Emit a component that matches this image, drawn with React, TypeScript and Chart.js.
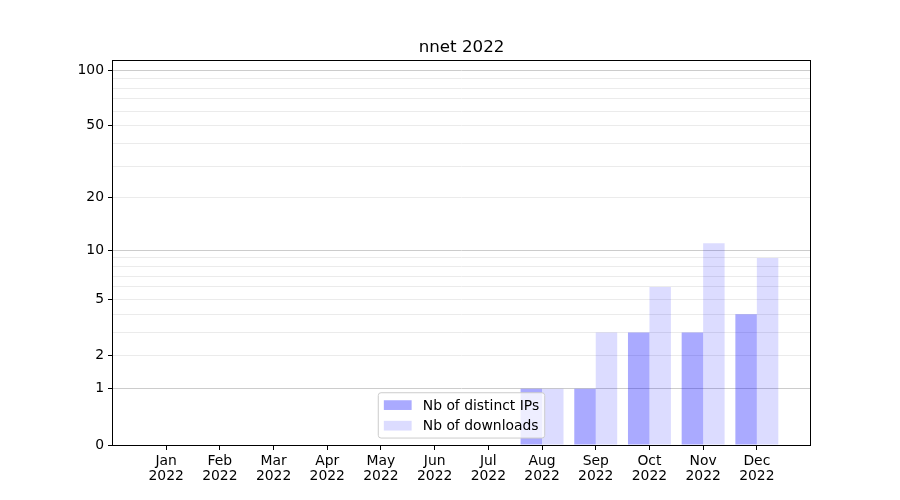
import React, { useEffect, useRef } from "react";
import { Chart, registerables } from "chart.js";

Chart.register(...registerables);

const titleText = "nnet 2022";
const months = ["Jan", "Feb", "Mar", "Apr", "May", "Jun", "Jul", "Aug", "Sep", "Oct", "Nov", "Dec"];
const yearLabel = "2022";
const distinctIPs = [0, 0, 0, 0, 0, 0, 0, 1, 1, 3, 3, 4];
const downloads = [0, 0, 0, 0, 0, 0, 0, 1, 3, 6, 11, 9];
const seriesLabels = ["Nb of distinct IPs", "Nb of downloads"];
const yLabelledTicks = [0, 1, 2, 5, 10, 20, 50, 100];
const yMajorGrid = [1, 10, 100];
const yMinorGrid = [2, 3, 4, 5, 6, 7, 8, 9, 20, 30, 40, 50, 60, 70, 80, 90];
const yTopValue = 113.4;

const FONT = "DejaVu Sans";
const FS = 13.9;

const f = (v: number) => Math.log10(1 + v);
const inv = (t: number) => Math.pow(10, t) - 1;
const near = (a: number, list: number[]) => list.some((v) => Math.abs(v - a) < 1e-6);

const allYTicks = Array.from(new Set([...yLabelledTicks, ...yMajorGrid, ...yMinorGrid])).sort((a, b) => a - b);

const framePlugin = {
  id: "frameAndExtras",
  afterDatasetsDraw(chart: any) {
    const { ctx, chartArea } = chart;
    const { left, right, top, bottom } = chartArea;
    ctx.save();
    ctx.strokeStyle = "#000";
    ctx.lineWidth = 1;
    ctx.strokeRect(Math.round(left) - 0.5, Math.round(top) + 0.5, Math.round(right - left) + 1, Math.round(bottom - top));
    // title
    ctx.fillStyle = "#000";
    ctx.font = `16.7px "${FONT}"`;
    ctx.textAlign = "center";
    ctx.textBaseline = "alphabetic";
    ctx.fillText(titleText, (left + right) / 2, top - 8.3);

    // legend
    ctx.font = `${FS}px "${FONT}"`;
    const pad = 0.4 * FS;
    const handleW = 2 * FS;
    const handleH = 0.7 * FS;
    const textPad = 0.8 * FS;
    const rowH = FS * 0.98;
    const gap = 0.5 * FS;
    const datasets = chart.data.datasets;
    const textW = Math.max(...datasets.map((d: any) => ctx.measureText(d.label).width));
    const boxW = pad * 2 + handleW + textPad + textW;
    const boxH = pad * 2 + rowH * datasets.length + gap * (datasets.length - 1);
    const bx = (left + right) / 2 - boxW / 2;
    const by = bottom - 0.5 * FS - boxH;
    const r = 0.2 * FS;
    ctx.beginPath();
    ctx.moveTo(bx + r, by);
    ctx.lineTo(bx + boxW - r, by);
    ctx.quadraticCurveTo(bx + boxW, by, bx + boxW, by + r);
    ctx.lineTo(bx + boxW, by + boxH - r);
    ctx.quadraticCurveTo(bx + boxW, by + boxH, bx + boxW - r, by + boxH);
    ctx.lineTo(bx + r, by + boxH);
    ctx.quadraticCurveTo(bx, by + boxH, bx, by + boxH - r);
    ctx.lineTo(bx, by + r);
    ctx.quadraticCurveTo(bx, by, bx + r, by);
    ctx.closePath();
    ctx.fillStyle = "rgba(255,255,255,0.8)";
    ctx.fill();
    ctx.strokeStyle = "#cccccc";
    ctx.lineWidth = 1;
    ctx.stroke();
    ctx.textAlign = "left";
    ctx.textBaseline = "middle";
    datasets.forEach((d: any, i: number) => {
      const cy = by + pad + rowH / 2 + i * (rowH + gap);
      ctx.fillStyle = d.backgroundColor;
      ctx.fillRect(bx + pad, cy - handleH / 2, handleW, handleH);
      ctx.fillStyle = "#000";
      ctx.fillText(d.label, bx + pad + handleW + textPad, cy + 1);
    });
    ctx.restore();
  },
};

export default function App() {
  const ref = useRef<HTMLCanvasElement | null>(null);
  useEffect(() => {
    if (!ref.current) return;
    const xMin = -0.4 - 0.05 * (months.length - 1 + 0.8);
    const xMax = months.length - 1 + 0.4 + 0.05 * (months.length - 1 + 0.8);
    const chart = new Chart(ref.current, {
      type: "bar",
      data: {
        datasets: [
          {
            label: seriesLabels[0],
            data: distinctIPs.map((v, i) => ({ x: i, y: f(v) })),
            backgroundColor: "rgba(0,0,255,0.333)",
            borderWidth: 0,
          },
          {
            label: seriesLabels[1],
            data: downloads.map((v, i) => ({ x: i, y: f(v) })),
            backgroundColor: "rgba(0,0,255,0.137)",
            borderWidth: 0,
          },
        ],
      },
      options: {
        animation: false,
        responsive: false,
        devicePixelRatio: 1,
        categoryPercentage: 0.8,
        barPercentage: 1,
        layout: { padding: { left: 0, right: 90, top: 60, bottom: 0 } },
        plugins: { legend: { display: false }, title: { display: false }, tooltip: { enabled: false } },
        scales: {
          x: {
            type: "linear",
            min: xMin,
            max: xMax,
            offset: false,
            border: { display: false },
            afterBuildTicks: (scale: any) => {
              scale.ticks = months.map((_, i) => ({ value: i }));
            },
            afterFit: (scale: any) => {
              scale.height = 55;
            },
            grid: { offset: false, drawOnChartArea: false, drawTicks: true, tickLength: 5, tickColor: "#000", tickWidth: 1 },
            ticks: {
              autoSkip: false,
              maxRotation: 0,
              padding: 4,
              color: "#000",
              font: { family: FONT, size: FS, lineHeight: 1.08 },
              callback: (value: any) => [months[Math.round(value)], yearLabel],
            },
          },
          y: {
            type: "linear",
            min: 0,
            max: f(yTopValue),
            border: { display: false },
            afterBuildTicks: (scale: any) => {
              scale.ticks = allYTicks.map((v) => ({ value: f(v) }));
            },
            afterFit: (scale: any) => {
              scale.width = 113;
            },
            grid: {
              drawTicks: true,
              tickLength: 5,
              tickWidth: 1,
              lineWidth: 1,
              tickColor: (ctx: any) => {
                const v = inv(ctx.tick ? ctx.tick.value : 0);
                return near(v, yLabelledTicks) ? "#000" : "rgba(0,0,0,0)";
              },
              color: (ctx: any) => {
                const v = inv(ctx.tick ? ctx.tick.value : 0);
                if (near(v, yMajorGrid)) return "#cccccc";
                if (near(v, yMinorGrid)) return "#ebebeb";
                return "rgba(0,0,0,0)";
              },
            },
            ticks: {
              autoSkip: false,
              padding: 4,
              color: "#000",
              font: { family: FONT, size: FS },
              callback: (value: any) => {
                const v = Math.round(inv(value));
                return near(v, yLabelledTicks) ? String(v) : "";
              },
            },
          },
        },
      } as any,
      plugins: [framePlugin],
    });
    return () => chart.destroy();
  }, []);
  return (
    <div style={{ position: "fixed", left: 0, top: 0, width: 900, height: 500, background: "#fff" }}>
      <canvas ref={ref} width={900} height={500} style={{ width: 900, height: 500, display: "block" }} />
    </div>
  );
}
